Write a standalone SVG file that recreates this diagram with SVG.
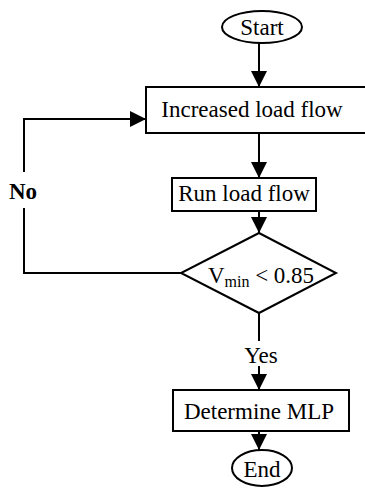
<svg xmlns="http://www.w3.org/2000/svg" width="365" height="489" viewBox="0 0 365 489">
  <style>
    .shape { fill: #ffffff; stroke: #000000; stroke-width: 2; }
    .line { fill: none; stroke: #000000; stroke-width: 2; }
    .label { font-family: "Liberation Serif", "Times New Roman", serif; font-size: 23px; fill: #000000; text-anchor: middle; }
    .bold { font-weight: bold; }
  </style>
  <defs>
    <marker id="arrow" markerUnits="userSpaceOnUse" markerWidth="16" markerHeight="16" refX="16" refY="8" orient="auto">
      <path d="M0,0 L16,8 L0,16 z" fill="#000000"/>
    </marker>
  </defs>

  <!-- connectors -->
  <g id="connectors">
    <line class="line" x1="259" y1="42" x2="259" y2="87" marker-end="url(#arrow)"/>
    <line class="line" x1="259" y1="133" x2="259" y2="178" marker-end="url(#arrow)"/>
    <line class="line" x1="259" y1="211" x2="259" y2="233" marker-end="url(#arrow)"/>
    <!-- "No" loop back to the load flow step -->
    <polyline class="line" points="181,273 24,273 24,208"/>
    <polyline class="line" points="24,172 24,119 146,119" marker-end="url(#arrow)"/>
    <text class="label bold" x="23" y="199">No</text>
    <!-- "Yes" branch -->
    <line class="line" x1="259" y1="313" x2="259" y2="341"/>
    <text class="label" x="261" y="363" font-size="24">Yes</text>
    <line class="line" x1="259" y1="366" x2="259" y2="390" marker-end="url(#arrow)"/>
    <line class="line" x1="259" y1="431" x2="259" y2="450" marker-end="url(#arrow)"/>
  </g>

  <g id="start">
    <ellipse class="shape" cx="262" cy="27" rx="40" ry="16"/>
    <text class="label" x="262" y="35" font-size="24">Start</text>
  </g>

  <g id="increase-load">
    <rect class="shape" x="146" y="87" width="224" height="46"/>
    <text class="label" x="252" y="117">Increased load flow</text>
  </g>

  <g id="run-load-flow">
    <rect class="shape" x="172" y="178" width="144" height="33"/>
    <text class="label" x="244" y="201">Run load flow</text>
  </g>

  <g id="check-vmin">
    <polygon class="shape" points="259,233 336,273 259,313 181,273"/>
    <text class="label" x="261" y="283" font-size="25">V<tspan font-size="16" dy="4">min</tspan><tspan dy="-4"> &lt; 0.85</tspan></text>
  </g>

  <g id="determine-mlp">
    <rect class="shape" x="173" y="390" width="176" height="41"/>
    <text class="label" x="259" y="419">Determine MLP</text>
  </g>

  <g id="end">
    <ellipse class="shape" cx="262" cy="468" rx="30" ry="18"/>
    <text class="label" x="262" y="477" font-size="24">End</text>
  </g>
</svg>
